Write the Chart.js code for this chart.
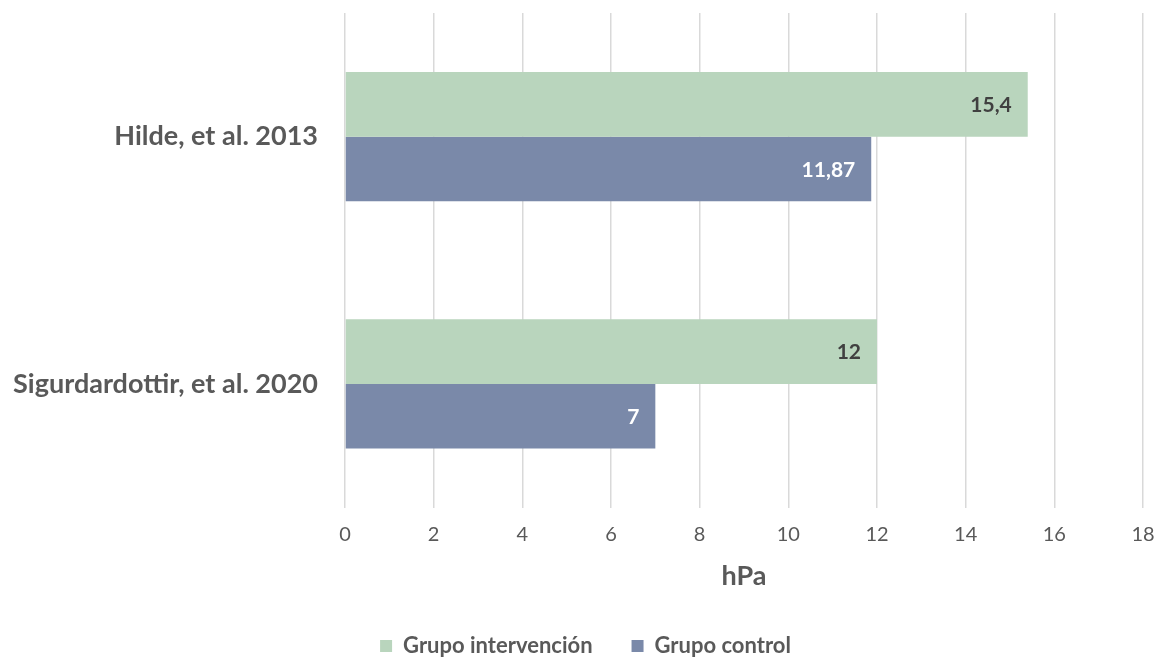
<!DOCTYPE html>
<html>
<head>
<meta charset="utf-8">
<script src="https://cdn.jsdelivr.net/npm/chart.js@4.4.0/dist/chart.umd.min.js"></script>
<style>
  html, body { margin: 0; padding: 0; background: #ffffff; }
  #wrap { width: 1164px; height: 658px; }
</style>
</head>
<body>
<div id="wrap"><canvas id="hpaChart" width="1164" height="658"></canvas></div>
<script>
// Chart data
const studies = ['Hilde, et al. 2013', 'Sigurdardottir, et al. 2020'];
const intervencion = [15.4, 12];
const control = [11.87, 7];
const xTicks = [0, 2, 4, 6, 8, 10, 12, 14, 16, 18];

const FONT = 'Lato, "Open Sans", sans-serif';

// Value labels inside bar ends
const barLabels = {
    id: 'barLabels',
    afterDatasetsDraw(chart) {
        const ctx = chart.ctx;
        ctx.save();
        ctx.font = 'bold 21px ' + FONT;
        ctx.textAlign = 'right';
        ctx.textBaseline = 'middle';
        chart.data.datasets.forEach((ds, i) => {
            const meta = chart.getDatasetMeta(i);
            meta.data.forEach((bar, j) => {
                ctx.fillStyle = ds.labelColor;
                const txt = String(ds.data[j]).replace('.', ',');
                ctx.fillText(txt, bar.x - 16, bar.y + 1);
            });
        });
        ctx.restore();
    }
};

// nudge the legend a bit to the right, like the original
const legendShift = {
    id: 'legendShift',
    afterLayout(chart) {
        chart.legend.left += 14;
        chart.legend.right += 14;
    }
};

const chart = new Chart(document.getElementById('hpaChart').getContext('2d'), {
    type: 'bar',
    data: {
        labels: studies,
        datasets: [{
            label: 'Grupo intervención',
            data: intervencion,
            backgroundColor: '#b9d5bd',
            labelColor: '#404040',
            barPercentage: 1,
            categoryPercentage: 0.523
        }, {
            label: 'Grupo control',
            data: control,
            backgroundColor: '#7a89a9',
            labelColor: '#ffffff',
            barPercentage: 1,
            categoryPercentage: 0.523
        }]
    },
    options: {
        indexAxis: 'y',
        responsive: false,
        animation: false,
        layout: {
            padding: { top: 13, right: 21, left: 0, bottom: -9 }
        },
        plugins: {
            legend: {
                position: 'bottom',
                labels: {
                    boxWidth: 12,
                    boxHeight: 12,
                    padding: 39,
                    color: '#595959',
                    font: { family: FONT, size: 22, weight: 'bold' }
                }
            },
            tooltip: { enabled: false }
        },
        scales: {
            x: {
                min: 0,
                max: 18,
                afterBuildTicks: axis => {
                    axis.ticks = xTicks.map(v => ({ value: v }));
                },
                afterFit: axis => {
                    axis.paddingLeft = 0;
                    axis.paddingRight = 0;
                },
                grid: {
                    color: '#d9d9d9',
                    lineWidth: 1.5,
                    drawTicks: false
                },
                border: { display: false },
                ticks: {
                    padding: 15,
                    color: '#595959',
                    font: { family: FONT, size: 20 }
                },
                title: {
                    display: true,
                    text: 'hPa',
                    color: '#595959',
                    font: { family: FONT, size: 27, weight: 'bold' },
                    padding: { top: -2, bottom: 4 }
                }
            },
            y: {
                grid: { display: false },
                border: { display: false },
                afterFit: axis => {
                    axis.width = 345;
                    axis.paddingTop = 0;
                    axis.paddingBottom = 0;
                },
                ticks: {
                    padding: 19,
                    color: '#595959',
                    font: { family: FONT, size: 27, weight: 'bold' }
                }
            }
        }
    },
    plugins: [barLabels, legendShift]
});
</script>
</body>
</html>
